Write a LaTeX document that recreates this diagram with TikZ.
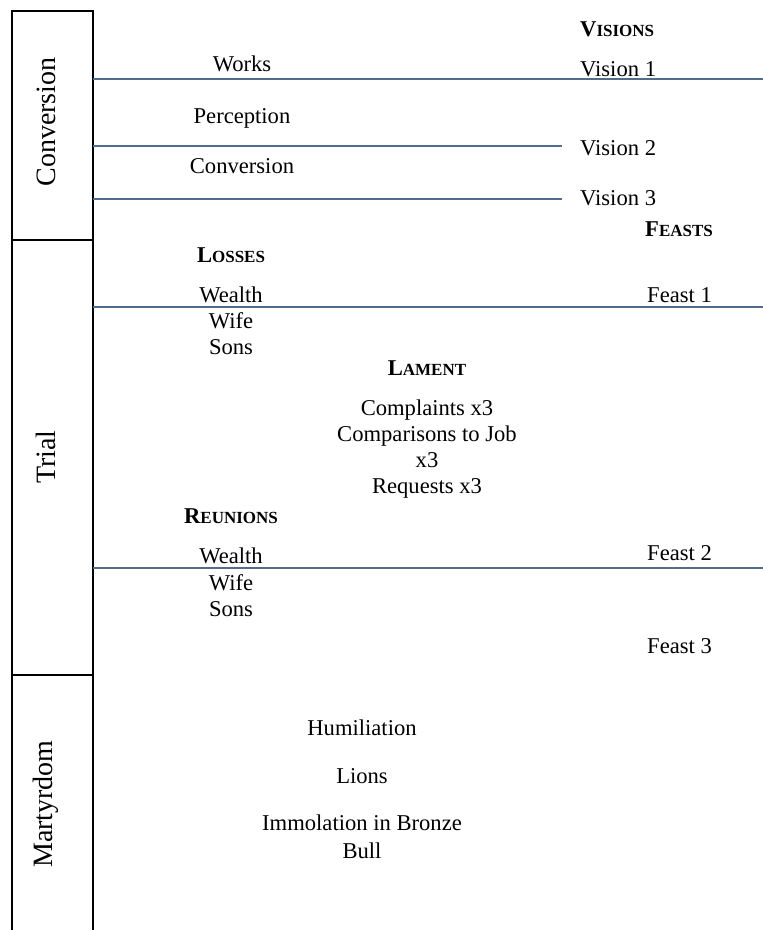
\documentclass[tikz,border=0pt]{standalone}
\usepackage{fontspec}
\setmainfont{Liberation Serif}
\definecolor{rule}{RGB}{80,110,140}
\newcommand{\hsc}[2]{{\bfseries #1{\fontsize{17}{20}\selectfont #2}}}
\begin{document}
\begin{tikzpicture}[x=1pt,y=-1pt,
  txt/.style={inner sep=0pt,anchor=base,font=\fontsize{22.6}{26}\selectfont},
  lft/.style={txt,anchor=base west},
  side/.style={inner sep=0pt,rotate=90,font=\fontsize{28}{32}\selectfont},
  sep/.style={draw=rule,line width=1.3pt},
  box/.style={draw=black,line width=1.2pt}]
\useasboundingbox (0,0) rectangle (763,930);
% left column
\draw[box] (12,11) rectangle (93,240);
\draw[box] (12,240) rectangle (93,675);
\draw[box] (12,930) -- (12,675) -- (93,675) -- (93,930);
\node[side] (cConv) at (46,122) {Conversion};
\node[side] (cTrial) at (46,457) {Trial};
\node[side] (cMart) at (46,804) {Martyrdom};
% rule end points
\coordinate (l1a) at (93,79);  \coordinate (l1b) at (763,79);
\coordinate (l2a) at (93,146); \coordinate (l2b) at (562,146);
\coordinate (l3a) at (93,199); \coordinate (l3b) at (562,199);
\coordinate (l4a) at (93,307); \coordinate (l4b) at (763,307);
\coordinate (l5a) at (93,568); \coordinate (l5b) at (763,568);
\draw[sep] (l1a) -- (l1b);
\draw[sep] (l2a) -- (l2b);
\draw[sep] (l3a) -- (l3b);
\draw[sep] (l4a) -- (l4b);
\draw[sep] (l5a) -- (l5b);
% conversion section
\node[txt] (works) at (242,71) {Works};
\node[txt] (perc) at (242,123) {Perception};
\node[txt] (conv) at (242,173) {Conversion};
\node[lft] (visions) at (580,36) {\hsc{V}{ISIONS}};
\node[lft] (v1) at (580,76) {Vision 1};
\node[lft] (v2) at (580,155) {Vision 2};
\node[lft] (v3) at (580,205) {Vision 3};
% trial section
\node[lft] (feasts) at (645,236) {\hsc{F}{EASTS}};
\node[lft] (f1) at (647,302) {Feast 1};
\node[lft] (f2) at (647,560) {Feast 2};
\node[lft] (f3) at (647,653) {Feast 3};
\node[txt] (losses) at (231,262) {\hsc{L}{OSSES}};
\node[txt] (w1) at (231,302) {Wealth};
\node[txt] (wi1) at (231,328) {Wife};
\node[txt] (s1) at (231,354) {Sons};
\node[txt] (lament) at (427,375) {\hsc{L}{AMENT}};
\node[txt] (compl) at (427,415) {Complaints x3};
\node[txt] (compa) at (427,441) {Comparisons to Job};
\node[txt] (x3) at (427,467) {x3};
\node[txt] (req) at (427,493) {Requests x3};
\node[txt] (reun) at (231,523) {\hsc{R}{EUNIONS}};
\node[txt] (w2) at (231,563) {Wealth};
\node[txt] (wi2) at (231,590) {Wife};
\node[txt] (s2) at (231,616) {Sons};
% martyrdom section
\node[txt] (hum) at (362,735) {Humiliation};
\node[txt] (lions) at (362,783) {Lions};
\node[txt] (imm) at (362,830) {Immolation in Bronze};
\node[txt] (bull) at (362,858) {Bull};
\end{tikzpicture}
\end{document}
